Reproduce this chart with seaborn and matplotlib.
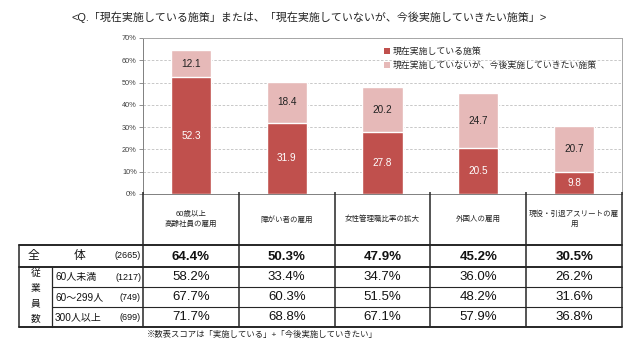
import matplotlib
matplotlib.use("Agg")
import matplotlib.pyplot as plt
import seaborn as sns
import pandas as pd
from matplotlib.patches import Patch

# ---------------- data ----------------
categories = ["60歳以上\n高齢社員の雇用", "障がい者の雇用", "女性管理職比率の拡大",
              "外国人の雇用", "現役・引退アスリートの雇\n用"]
current = [52.3, 31.9, 27.8, 20.5, 9.8]
future = [12.1, 18.4, 20.2, 24.7, 20.7]
series_names = ["現在実施している施策", "現在実施していないが、今後実施していきたい施策"]

row_total_label = ("全", "体", "(2665)")
total_scores = ["64.4%", "50.3%", "47.9%", "45.2%", "30.5%"]
group_label = "従業員数"
sub_labels = ["60人未満", "60～299人", "300人以上"]
sub_counts = ["(1217)", "(749)", "(699)"]
sub_scores = [
    ["58.2%", "33.4%", "34.7%", "36.0%", "26.2%"],
    ["67.7%", "60.3%", "51.5%", "48.2%", "31.6%"],
    ["71.7%", "68.8%", "67.1%", "57.9%", "36.8%"],
]
yticks = [0, 10, 20, 30, 40, 50, 60, 70]
title = "<Q.「現在実施している施策」または、「現在実施していないが、今後実施していきたい施策」>"
footnote = "※数表スコアは「実施している」+「今後実施していきたい」"

# ---------------- style ----------------
sns.set_theme(style="white")
plt.rcParams["font.family"] = ["Liberation Sans", "Noto Sans CJK JP", "DejaVu Sans"]

DARK = "#C0504D"
LIGHT = "#E6B9B8"
W, H = 640, 344

fig = plt.figure(figsize=(6.4, 3.44), dpi=100)
fig.patch.set_facecolor("white")

# plot area in pixel coordinates
L, R, T, B = 143, 622, 38, 194
ax = fig.add_axes([L / W, 1 - B / H, (R - L) / W, (B - T) / H])

df = pd.DataFrame({"cat": categories, "current": current, "future": future})
df["total"] = df["current"] + df["future"]

sns.barplot(data=df, x="cat", y="total", color=LIGHT, saturation=1, width=0.42,
            ax=ax, zorder=2)
sns.barplot(data=df, x="cat", y="current", color=DARK, saturation=1, width=0.42,
            ax=ax, zorder=3)

ax.set_xlim(-0.5, len(categories) - 0.5)
ax.set_ylim(0, 70)
ax.set_yticks(yticks)
ax.set_yticklabels([f"{v}%" for v in yticks], fontsize=5.3, color="#404040")
ax.set_xticks([])
ax.set_xlabel("")
ax.set_ylabel("")
ax.tick_params(axis="y", length=3, width=0.6, color="#808080", pad=1.5, left=True)
ax.yaxis.grid(True, linestyle=(0, (3, 2)), color="#BFBFBF", linewidth=0.6, zorder=0)
ax.set_axisbelow(True)
for s in ax.spines.values():
    s.set_color("#A6A6A6")
    s.set_linewidth(0.7)
ax.spines["left"].set_color("#808080")
ax.spines["bottom"].set_color("#808080")

# data labels
for i, (c, f) in enumerate(zip(current, future)):
    ax.text(i, c / 2, f"{c:.1f}", ha="center", va="center", color="white", fontsize=7.2)
    ax.text(i, c + f / 2, f"{f:.1f}", ha="center", va="center", color="#222222", fontsize=7.2)

handles = [Patch(facecolor=DARK, edgecolor="none"), Patch(facecolor=LIGHT, edgecolor="none")]
fig.legend(handles, series_names, loc="upper left", bbox_to_anchor=(384 / W, 1 - 47 / H),
           frameon=False, fontsize=6.4, handlelength=0.7, handleheight=0.7,
           handletextpad=0.3, labelspacing=0.6, borderpad=0, borderaxespad=0)

# ---------------- overlay for title / table ----------------
ov = fig.add_axes([0, 0, 1, 1])
ov.set_xlim(0, W)
ov.set_ylim(H, 0)
ov.axis("off")

ov.text(72, 17, title, ha="left", va="center", fontsize=7.9, color="#222222")

n = len(categories)
cw = (R - L) / n
edges = [L + k * cw for k in range(n + 1)]
centers = [L + (k + 0.5) * cw for k in range(n)]

y_head_bot = 245
y_tot_bot = 267
y_rows = [267, 287, 307, 327]
XL, XG = 19, 52
LC = "#262626"

# vertical lines
for x in edges:
    ov.plot([x, x], [B - 2, y_rows[-1]], color=LC, lw=1.1, solid_capstyle="butt")
ov.plot([XL, XL], [y_head_bot, y_rows[-1]], color=LC, lw=1.1)
ov.plot([XG, XG], [y_tot_bot, y_rows[-1]], color=LC, lw=0.9)
# horizontal lines
ov.plot([XL, R], [y_head_bot, y_head_bot], color=LC, lw=1.4)
ov.plot([XL, R], [y_tot_bot, y_tot_bot], color=LC, lw=1.4)
for y in y_rows[1:-1]:
    ov.plot([XG, R], [y, y], color=LC, lw=0.8)
ov.plot([XL, R], [y_rows[-1], y_rows[-1]], color=LC, lw=1.4)

# header labels
for xc, lab in zip(centers, categories):
    ov.text(xc, (B + y_head_bot) / 2, lab, ha="center", va="center", fontsize=5.4,
            color="#222222", linespacing=1.6)

# total row
yt = (y_head_bot + y_tot_bot) / 2
ov.text(33, yt, row_total_label[0], ha="center", va="center", fontsize=8.5, color="#111111")
ov.text(80, yt, row_total_label[1], ha="center", va="center", fontsize=8.5, color="#111111")
ov.text(141, yt, row_total_label[2], ha="right", va="center", fontsize=6.5, color="#111111")
for xc, v in zip(centers, total_scores):
    ov.text(xc, yt + 0.5, v, ha="center", va="center", fontsize=9.5, fontweight="bold",
            color="#111111")

# group label (vertical characters)
gy = [273, 288, 303, 318]
for ch, y in zip(group_label, gy):
    ov.text(36, y, ch, ha="center", va="center", fontsize=7, color="#111111")

for r in range(len(sub_labels)):
    y = (y_rows[r] + y_rows[r + 1]) / 2
    ov.text(55, y, sub_labels[r], ha="left", va="center", fontsize=7.2, color="#111111")
    ov.text(141, y, sub_counts[r], ha="right", va="center", fontsize=6.5, color="#111111")
    for xc, v in zip(centers, sub_scores[r]):
        ov.text(xc, y + 0.5, v, ha="center", va="center", fontsize=9.5, color="#111111")

ov.text(147, 335, footnote, ha="left", va="center", fontsize=6, color="#222222")

fig.savefig("out.png", dpi=100, facecolor="white")
